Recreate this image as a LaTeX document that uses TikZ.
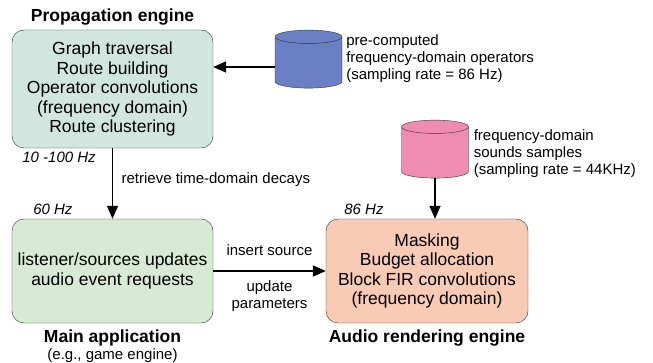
\documentclass[tikz,border=0pt]{standalone}
\usepackage{fontspec}
\setmainfont{Liberation Sans}
\usetikzlibrary{positioning,shapes.geometric,arrows.meta}
\definecolor{propfill}{RGB}{208,230,222}
\definecolor{appfill}{RGB}{215,234,211}
\definecolor{audiofill}{RGB}{249,203,181}
\definecolor{opsblue}{RGB}{106,127,196}
\definecolor{smppink}{RGB}{239,141,177}
\tikzset{engine/.style={draw=black!80,thin,rounded corners=12pt,fill=#1,align=center,minimum width=201pt,font=\fontsize{17.5}{19.5}\selectfont},
store/.style={cylinder,shape border rotate=90,aspect=2,draw=black!80,thin,fill=#1,minimum width=67pt,minimum height=58pt},
title/.style={font=\fontsize{17.5}{20}\selectfont\bfseries},
note/.style={font=\fontsize{15}{17}\selectfont,align=left},
rate/.style={font=\fontsize{15}{17}\selectfont\itshape},
flow/.style={-{Triangle[length=13pt,width=11pt]},line width=1.6pt}}

\begin{document}
\begin{tikzpicture}[x=1pt,y=-1pt]
\useasboundingbox (0,0) rectangle (653,363);
\node[engine=propfill,minimum height=118pt] (prop) at (112.5,89) {Graph traversal\\ Route building\\ Operator convolutions\\ (frequency domain)\\ Route clustering};
\node[engine=appfill,minimum height=104pt] (app) at (112.5,271) {listener/sources updates\\ audio event requests};
\node[engine=audiofill,minimum height=104pt,minimum width=202pt] (audio) at (427,271) {Masking\\ Budget allocation\\ Block FIR convolutions\\ (frequency domain)};
\node[store=opsblue] (ops) at (308.5,64) {};
\node[store=smppink] (smp) at (435,154) {};
% titles and rates
\node[title,above=1pt of prop] (proptitle) {Propagation engine};
\node[title,below=3pt of app] (apptitle) {Main application};
\node[note,below=-4pt of apptitle] (appnote) {(e.g., game engine)};
\node[title,below=3pt of audio] (audiotitle) {Audio rendering engine};
\node[rate,below right=0pt and 7pt of prop.south west] (proprate) {10 -100 Hz};
\node[rate,above right=1pt and 18pt of app.north west] (apprate) {60 Hz};
\node[rate,above right=1pt and 15pt of audio.north west] (audiorate) {86 Hz};
\node[note,right=4pt of ops.north east,anchor=north west,yshift=3pt] (opsnote) {pre-computed\\ frequency-domain operators\\ (sampling rate = 86 Hz)};
\node[note,right=5pt of smp.north east,anchor=north west,yshift=-2pt] (smpnote) {frequency-domain\\ sounds samples\\ (sampling rate = 44KHz)};
% connectors
\coordinate (opsout) at ([yshift=-3pt]ops.west);
\draw[flow] (opsout) -- (prop.east |- opsout);
\draw[flow] (prop.south) -- node[note,right=5pt,pos=0.45] {retrieve time-domain decays} (app.north);
\draw[flow] (app.east) -- node[note,above=11pt] {insert source} node[note,below=5pt,align=center] {update\\ parameters} (audio.west);
\draw[flow] (smp.south) -- (smp.south |- audio.north);
\end{tikzpicture}
\end{document}
